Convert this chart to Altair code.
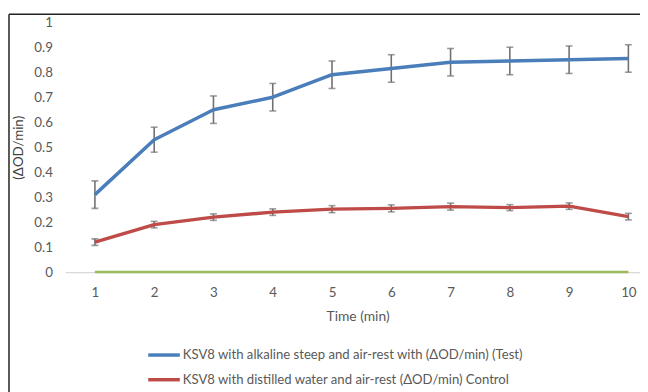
import altair as alt
import pandas as pd

time_min = [1, 2, 3, 4, 5, 6, 7, 8, 9, 10]
test_vals = [0.31, 0.53, 0.65, 0.70, 0.79, 0.815, 0.84, 0.845, 0.85, 0.855]
test_err = [0.055, 0.05, 0.055, 0.055, 0.055, 0.055, 0.055, 0.055, 0.055, 0.055]
control_vals = [0.12, 0.19, 0.22, 0.24, 0.252, 0.255, 0.262, 0.258, 0.264, 0.222]
control_err = [0.013, 0.013, 0.013, 0.013, 0.014, 0.014, 0.014, 0.012, 0.013, 0.013]
zero_vals = [0, 0, 0, 0, 0, 0, 0, 0, 0, 0]
y_ticks = [0, 0.1, 0.2, 0.3, 0.4, 0.5, 0.6, 0.7, 0.8, 0.9, 1]

test_name = "KSV8 with alkaline steep and air-rest with (\u0394OD/min) (Test)"
control_name = "KSV8 with distilled water and air-rest (\u0394OD/min) Control"

rows = []
for t, v, e in zip(time_min, test_vals, test_err):
    rows.append({"time": t, "value": v, "lo": v - e, "hi": v + e, "series": test_name})
for t, v, e in zip(time_min, control_vals, control_err):
    rows.append({"time": t, "value": v, "lo": v - e, "hi": v + e, "series": control_name})
df = pd.DataFrame(rows)
zdf = pd.DataFrame({"time": time_min, "value": zero_vals})

FONT = "Lato"
GREY = "#595959"

x_scale = alt.Scale(domain=[0.5, 10.196], nice=False, zero=False)
y_scale = alt.Scale(domain=[0, 1], nice=False)

x_axis = alt.Axis(values=time_min, format="d", grid=False, ticks=False,
                  domainColor="#d9d9d9", domainWidth=1.2, labelOverlap=False,
                  labelColor=GREY, labelFontSize=13.5, labelPadding=14, labelFont=FONT,
                  title="Time (min)", titleColor=GREY, titleFontSize=14, titleFont=FONT,
                  titleFontWeight="normal", titlePadding=11, titleX=296)
y_axis = alt.Axis(values=y_ticks, format=".1~f", grid=False, ticks=False,
                  domain=False, labelOverlap=False, labelColor=GREY, labelFontSize=13.5,
                  labelPadding=13, labelFont=FONT, title="(\u0394OD/min)",
                  titleColor="#404040", titleFontSize=13.5, titleFont=FONT,
                  titleFontWeight="normal", titlePadding=8)

color_scale = alt.Scale(domain=[test_name, control_name], range=["#4a7ebb", "#be4b48"])

base = alt.Chart(df)

err = base.mark_errorbar(ticks={"size": 7, "thickness": 1.6, "color": "#707070"},
                         color="#707070", thickness=1.6).encode(
    x=alt.X("time:Q", scale=x_scale, axis=x_axis),
    y=alt.Y("lo:Q", scale=y_scale, axis=y_axis),
    y2="hi:Q",
)

lines = base.mark_line(strokeWidth=3.5, strokeJoin="round").encode(
    x=alt.X("time:Q", scale=x_scale, axis=x_axis),
    y=alt.Y("value:Q", scale=y_scale, axis=y_axis),
    color=alt.Color("series:N", scale=color_scale, sort=[test_name, control_name],
                    legend=alt.Legend(title=None, orient="none", legendX=82, legendY=319,
                                      symbolType="stroke", symbolSize=1024,
                                      symbolStrokeWidth=3.5, labelFontSize=13.3,
                                      labelColor=GREY, labelFont=FONT, labelOffset=1,
                                      rowPadding=-2, padding=0, labelLimit=600)),
)

zero_line = alt.Chart(zdf).mark_line(strokeWidth=2.5, color="#9bbb59").encode(
    x=alt.X("time:Q", scale=x_scale, axis=x_axis),
    y=alt.Y("value:Q", scale=y_scale, axis=y_axis),
)

frame_df = pd.DataFrame({"k": [0]})
left_border = alt.Chart(frame_df).mark_rule(color="#222222", strokeWidth=1.5).encode(
    x=alt.value(-57), y=alt.value(-8), y2=alt.value(380))
top_border = alt.Chart(frame_df).mark_rule(color="#222222", strokeWidth=1.5).encode(
    x=alt.value(-57), x2=alt.value(590), y=alt.value(-8))

chart = alt.layer(zero_line, err, lines, left_border, top_border).properties(
    width=582, height=253,
    autosize=alt.AutoSizeParams(type="none"),
    padding={"left": 58, "top": 12, "right": 0, "bottom": 119},
).configure_view(stroke=None)

chart.save("out.html", embed_options={"renderer": "svg", "actions": False})
